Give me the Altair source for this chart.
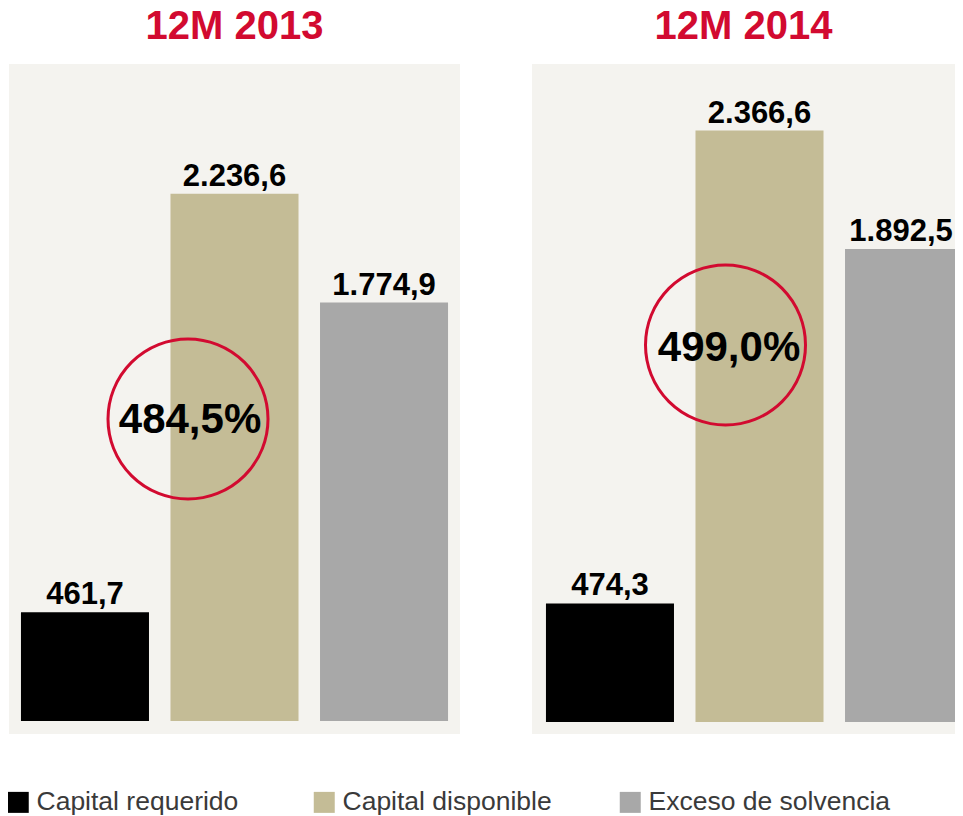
import altair as alt
import pandas as pd

categories = ["Capital requerido", "Capital disponible", "Exceso de solvencia"]
periods = ["12M 2013", "12M 2014"]
values_2013 = [461.7, 2236.6, 1774.9]
values_2014 = [474.3, 2366.6, 1892.5]
ratios = [484.5, 499.0]
bar_colors = ["#000000", "#C4BC96", "#A8A8A8"]

FONT = "Liberation Sans"
RED = "#D20A30"
BG = "#F4F3EF"


def es(v, d=1):
    s = f"{v:,.{d}f}"
    return s.replace(",", "_").replace(".", ",").replace("_", ".")


def panel(period, values, ratio, width, x_range, y_domain, circ_dx, circ_y, txt_dx, txt_y, last_dx):
    df = pd.DataFrame({"cat": categories, "value": values,
                       "label": [es(v) for v in values]})
    rdf = pd.DataFrame({"cat": ["Capital disponible"], "ratio": [es(ratio) + "%"]})
    xs = alt.Scale(domain=categories, paddingInner=0.1438, paddingOuter=0.08, range=x_range)
    x = alt.X("cat:N", scale=xs, axis=None, title=None)
    y = alt.Y("value:Q", scale=alt.Scale(domain=y_domain, nice=False, zero=False), axis=None)

    bars = alt.Chart(df).mark_bar(clip=True).encode(
        x=x, y=y, y2=alt.datum(0),
        color=alt.Color("cat:N",
                        scale=alt.Scale(domain=categories, range=bar_colors),
                        legend=alt.Legend(title=None, orient="none", legendX=-4, legendY=725,
                                          padding=0, direction="horizontal", columns=3,
                                          gridAlign="all", columnPadding=32,
                                          symbolType="square", symbolSize=441,
                                          symbolStrokeWidth=0, labelFontSize=26.5, labelFont=FONT,
                                          labelColor="#3A3A3A", labelOffset=5, labelLimit=400)),
    )
    text_style = dict(baseline="alphabetic", dy=-8, fontSize=31, fontWeight="bold",
                      font=FONT, color="#000000")
    labels = alt.Chart(df).mark_text(**text_style).encode(
        x=x, y=y, text="label:N").transform_filter(alt.datum.cat != categories[2])
    labels_last = alt.Chart(df).mark_text(dx=last_dx, **text_style).encode(
        x=x, y=y, text="label:N").transform_filter(alt.datum.cat == categories[2])
    circle = alt.Chart(rdf).mark_point(shape="circle", size=25600, filled=False, stroke=RED,
                                       strokeWidth=3, opacity=1, xOffset=circ_dx).encode(
        x=x, y=alt.value(circ_y))
    ratio_text = alt.Chart(rdf).mark_text(baseline="middle", align="center", fontSize=42,
                                          fontWeight="bold", font=FONT, color="#000000",
                                          xOffset=txt_dx).encode(
        x=x, y=alt.value(txt_y), text="ratio:N")
    return alt.layer(bars, labels, labels_last, circle, ratio_text).properties(
        width=width, height=670,
        view=alt.ViewBackground(fill=BG, strokeWidth=0, stroke="transparent"),
        title=alt.Title(period, fontSize=40, font=FONT, fontWeight="bold", color=RED,
                        anchor="middle", offset=17),
    )


left = panel(periods[0], values_2013, ratios[0], 451, [0, 451], [-55, 2787],
             -46.5, 355, -44.5, 356, 0)
right = panel(periods[1], values_2014, ratios[1], 423, [2, 453], [-48, 2633],
              -34, 281, -30.5, 284, -8)

chart = alt.hconcat(left, right, spacing=72).properties(
    padding={"left": -3, "top": -1, "right": 0, "bottom": 4}
).configure_view(fill=BG, strokeWidth=0, stroke="transparent").configure(background="#FFFFFF")

chart.save("out.html", embed_options={"renderer": "svg", "actions": False})
